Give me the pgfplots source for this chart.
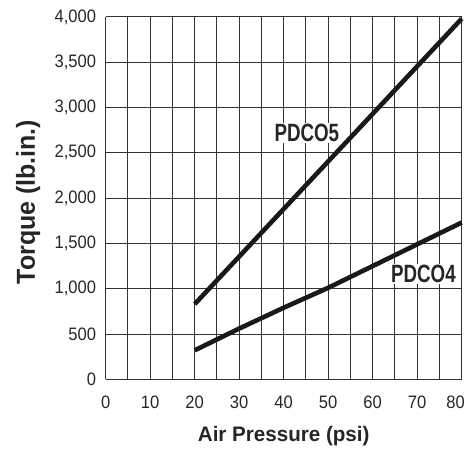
\documentclass[border=0pt]{standalone}
\usepackage{fontspec}
\setmainfont{Liberation Sans}
\newfontfamily\tickfont[FakeStretch=0.92]{Liberation Sans}
\newfontfamily\labfont[FakeStretch=0.75]{Liberation Sans}
\newfontfamily\xlabfont[FakeStretch=0.98]{Liberation Sans}
\newfontfamily\ylabfont[FakeStretch=0.96]{Liberation Sans}
\usepackage{pgfplots}
\pgfplotsset{compat=1.18}
\definecolor{gridc}{HTML}{333333}
\begin{document}
\begin{tikzpicture}
\begin{axis}[
  scale only axis,
  width=356pt, height=362.4pt,
  xmin=0, xmax=80, ymin=0, ymax=4000,
  xtick={0,10,...,70},
  minor xtick={5,15,...,75},
  extra x ticks={80},
  extra x tick style={grid=major, xticklabel style={xshift=-6pt}},
  ytick={0,500,...,4000},
  grid=both,
  major grid style={gridc, line width=0.9pt},
  minor grid style={gridc, line width=0.9pt},
  axis line style={gridc, line width=1pt},
  major tick length=0pt, minor tick length=0pt,
  axis x line*=bottom, axis y line*=left,
  /pgf/number format/assume math mode=true,
  /pgf/number format/.cd, 1000 sep={,},
  /pgfplots/.cd,
  ticklabel style={font=\fontsize{18}{18}\selectfont\tickfont, text=black!85},
  xticklabel style={anchor=north, inner sep=0pt, yshift=-16pt},
  yticklabel style={anchor=east, inner sep=0pt, xshift=-9.5pt},
  xlabel={\xlabfont\bfseries Air Pressure (psi)},
  ylabel={\ylabfont\bfseries Torque (lb.in.)},
  xlabel style={font=\fontsize{21}{21}\selectfont, text=black!85,
    at={([yshift=-62.4pt]axis description cs:0.5,0)}, anchor=base},
  ylabel style={font=\fontsize{26}{26}\selectfont, text=black!85,
    at={([xshift=-70.7pt,yshift=-4pt]axis description cs:0,0.5)}, anchor=base, rotate=0},
  clip=false,
]
\addplot[black!90, line width=4.6pt, line cap=butt] coordinates {(20,830) (80,3980)};
\addplot[black!90, line width=4.6pt, line cap=butt] coordinates {(20,320) (30,560) (40,790) (50,1010) (60,1250) (70,1490) (80,1730)};
\node[font=\fontsize{25}{25}\selectfont\labfont\bfseries, text=black!85, fill=white, inner sep=1pt] at (axis cs:45.2,2722) {PDCO5};
\node[font=\fontsize{25}{25}\selectfont\labfont\bfseries, text=black!85, fill=white, inner sep=1pt] at (axis cs:71.4,1162) {PDCO4};
\end{axis}
\pgfresetboundingbox
\path (current axis.south west) ++(-105.7pt,-70.7pt) rectangle ++(466pt,450pt);
\end{tikzpicture}
\end{document}
